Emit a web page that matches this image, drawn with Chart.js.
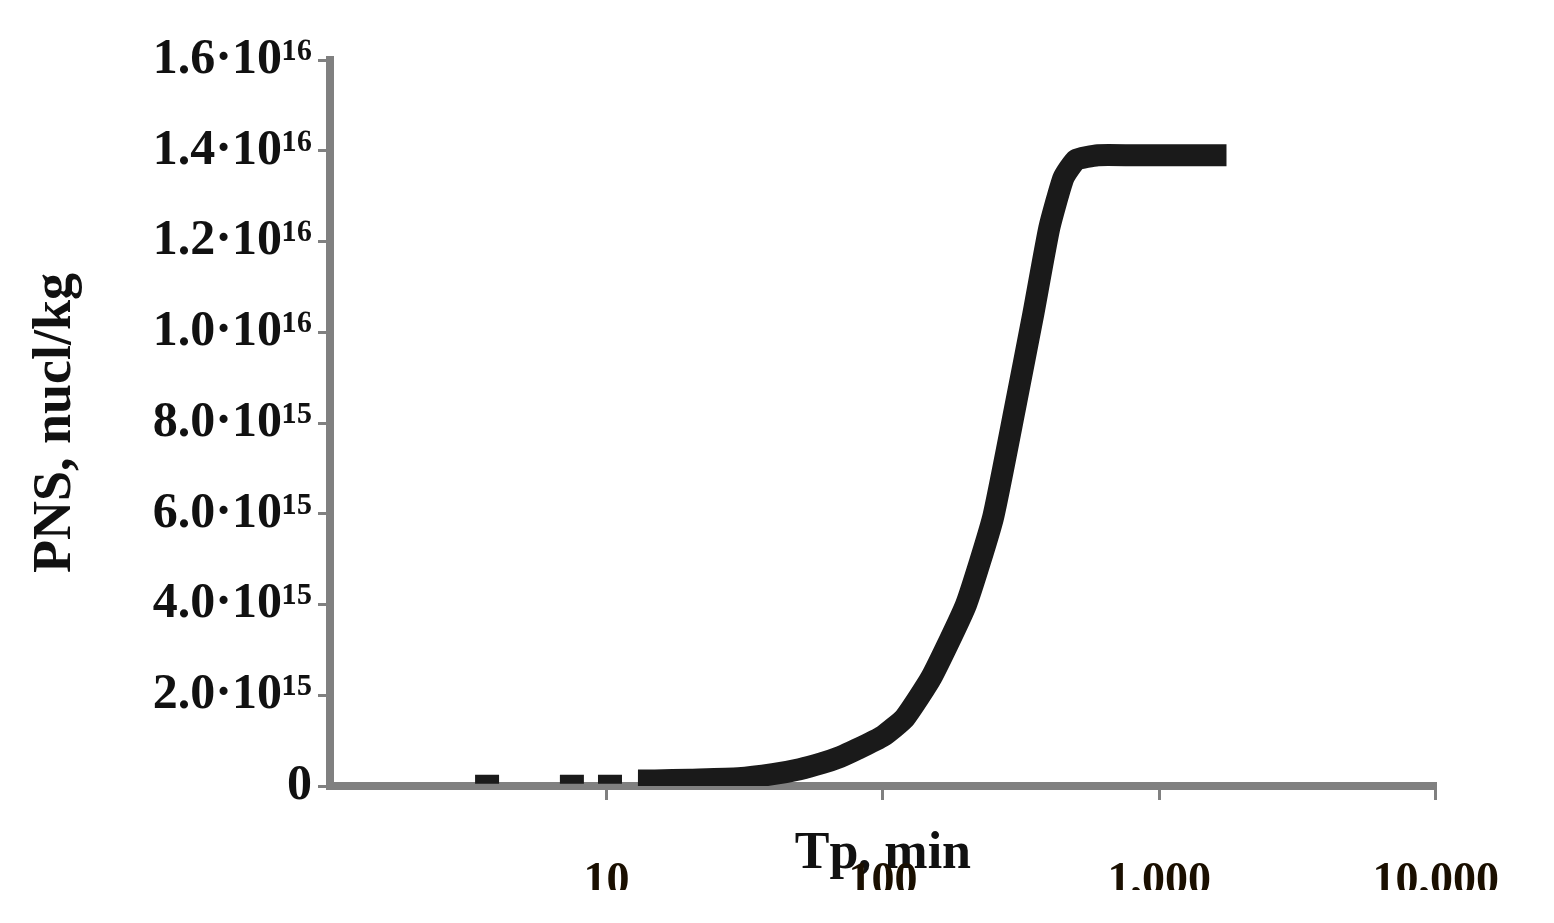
<!DOCTYPE html>
<html><head><meta charset="utf-8">
<script src="https://cdn.jsdelivr.net/npm/chart.js@4/dist/chart.umd.min.js"></script>
<style>html,body{margin:0;background:#fff}#w{width:1554px;height:923px}</style>
</head><body><div id="w"><canvas id="c"></canvas></div>
<script>
const curveX = [13,15,20,30,40,50,60,70,80,100,120,150,200,250,300,350,400,450,500,600,800,1000,1400,1750];
const curveY = [1.2e14,1.2e14,1.4e14,1.7e14,2.6e14,3.7e14,5e14,6.4e14,8e14,1.1e15,1.5e15,2.4e15,4e15,5.9e15,8.3e15,1.04e16,1.23e16,1.34e16,1.38e16,1.39e16,1.39e16,1.39e16,1.39e16,1.39e16];
const dashX = [3.7,7.5,10.3];
const dashY = [1.5e14,1.5e14,1.5e14];
const xTicks = [10,100,1000,10000];
const yLabels = {0:'0',2e15:'2.0·10¹⁵',4e15:'4.0·10¹⁵',6e15:'6.0·10¹⁵',8e15:'8.0·10¹⁵',1e16:'1.0·10¹⁶',1.2e16:'1.2·10¹⁶',1.4e16:'1.4·10¹⁶',1.6e16:'1.6·10¹⁶'};
const F='"Liberation Serif","DejaVu Serif",serif';
new Chart(document.getElementById('c'),{
 type:'scatter',
 data:{datasets:[
  {data:curveX.map((x,i)=>({x,y:curveY[i]})),showLine:true,borderColor:'#1a1a1a',borderWidth:22,pointRadius:0,tension:0.15,borderCapStyle:'butt'},
  {data:dashX.map((x,i)=>({x,y:dashY[i]})),pointStyle:'line',pointRadius:12,borderWidth:9,borderColor:'#1a1a1a',backgroundColor:'#1a1a1a'}
 ]},
 options:{responsive:true,maintainAspectRatio:false,animation:false,
  layout:{padding:{left:20,right:116,top:60,bottom:33}},
  plugins:{legend:{display:false},tooltip:{enabled:false}},
  scales:{
   x:{type:'logarithmic',min:1,max:10000,
    afterBuildTicks:a=>{a.ticks=xTicks.map(v=>({value:v}));},
    afterFit:s=>{s.height=104;},
    border:{color:'#808080',width:8},
    grid:{drawOnChartArea:false,color:'#808080',lineWidth:3,tickLength:14},
    ticks:{padding:55,color:'#1a0f00',font:{family:F,size:46,weight:'bold'},maxRotation:0,autoSkip:false,callback:v=>v.toLocaleString('en-US')},
    title:{display:true,text:'Tp, min',color:'#111',font:{family:F,size:52,weight:'bold'},padding:{top:60}}},
   y:{min:0,max:1.6e16,
    afterBuildTicks:a=>{a.ticks=Object.keys(yLabels).map(k=>({value:+k}));},
    afterFit:s=>{s.width=310;},
    border:{color:'#808080',width:8},
    grid:{drawOnChartArea:false,color:'#808080',lineWidth:3,tickLength:12},
    ticks:{padding:6,color:'#111',font:{family:F,size:50,weight:'bold'},autoSkip:false,callback:v=>yLabels[v]},
    title:{display:true,text:'PNS, nucl/kg',color:'#111',font:{family:F,size:54,weight:'bold'},padding:{bottom:10}}}
  }}
});
</script></body></html>
